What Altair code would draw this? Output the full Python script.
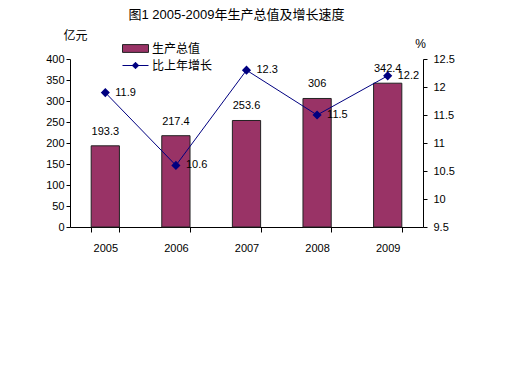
import altair as alt
import pandas as pd

years = ["2005", "2006", "2007", "2008", "2009"]
output = [193.3, 217.4, 253.6, 306, 342.4]
growth = [11.9, 10.6, 12.3, 11.5, 12.2]
output_labels = ["193.3", "217.4", "253.6", "306", "342.4"]
growth_labels = ["11.9", "10.6", "12.3", "11.5", "12.2"]

df = pd.DataFrame({
    "year": years, "output": output, "growth": growth,
    "olab": output_labels, "glab": growth_labels,
    "s1": ["生产总值"] * 5, "s2": ["比上年增长"] * 5,
})

FONT = "Liberation Sans, Noto Sans CJK SC"
BAR = "#993366"
LINE = "#000080"

x = alt.X("year:N", title=None,
          scale=alt.Scale(paddingInner=0.6, paddingOuter=0.3),
          axis=alt.Axis(labelAngle=0, labelPadding=10, ticks=True, tickBand="extent",
                        tickSize=5, tickWidth=1, tickOpacity=1, domainColor="black",
                        tickColor="black",
                        labelFontSize=11, labelColor="black", labelFont=FONT))

yl = alt.Y("output:Q", title="亿元",
           scale=alt.Scale(domain=[0, 400], nice=False),
           axis=alt.Axis(values=[0, 50, 100, 150, 200, 250, 300, 350, 400],
                         grid=False, tickSize=4, domainColor="black", tickColor="black",
                         labelFontSize=11, labelColor="black", labelFont=FONT,
                         titleAngle=0, titleX=5, titleY=-24, titleAlign="center",
                         titleBaseline="middle",
                         titleFontSize=12, titleFontWeight="normal", titleFont=FONT,
                         titleColor="black"))

yr = alt.Y("growth:Q", title="%", scale=alt.Scale(domain=[9.5, 12.5], nice=False, zero=False),
           axis=alt.Axis(orient="right", values=[9.5, 10, 10.5, 11, 11.5, 12, 12.5],
                         format=".1~f", labelPadding=6,
                         grid=False, tickSize=4, domainColor="black", tickColor="black",
                         labelFontSize=11, labelColor="black", labelFont=FONT,
                         titleAngle=0, titleX=-3, titleY=-16, titleAlign="center",
                         titleBaseline="middle",
                         titleFontSize=12, titleFontWeight="normal", titleFont=FONT,
                         titleColor="black"))

base = alt.Chart(df)

bars = base.mark_bar(stroke="#222222", strokeWidth=1).encode(
    x=x, y=yl,
    fill=alt.Fill("s1:N", scale=alt.Scale(domain=["生产总值"], range=[BAR]),
                  legend=alt.Legend(title=None, orient="none", legendX=52, legendY=-24,
                                    symbolType="M-1,-0.3H1V0.3H-1Z", symbolSize=676,
                                    symbolStrokeColor="#222222", symbolStrokeWidth=1,
                                    labelFontSize=12, labelFont=FONT, labelColor="black",
                                    labelOffset=3)),
)
bar_text = base.mark_text(dy=-14, fontSize=11, font=FONT, color="black").encode(
    x=x, y=yl, text="olab:N")

line = base.mark_line(strokeWidth=1, point=alt.OverlayMarkDef(shape="diamond", size=40, filled=True, color=LINE)).encode(
    x=x, y=yr,
    stroke=alt.Stroke("s2:N", scale=alt.Scale(domain=["比上年增长"], range=[LINE]),
                      legend=alt.Legend(title=None, orient="none", legendX=52, legendY=-7,
                                        symbolType="M-1,0H1M0,-0.25L0.25,0L0,0.25L-0.25,0Z",
                                        symbolSize=676, symbolStrokeWidth=1,
                                        symbolFillColor=LINE,
                                        labelFontSize=12, labelFont=FONT, labelColor="black",
                                        labelOffset=3)),
)
line_text = base.mark_text(dx=10, align="left", baseline="middle", fontSize=11,
                           font=FONT, color="black").encode(
    x=x, y=yr, text="glab:N")

left = alt.layer(bars, bar_text)
right = alt.layer(line, line_text)

chart = alt.layer(left, right).resolve_scale(y="independent", fill="independent", stroke="independent").properties(
    width=353, height=168,
    title=alt.TitleParams("图1 2005-2009年生产总值及增长速度", fontSize=13, fontWeight="normal",
                          font=FONT, color="black", dx=-10, offset=7),
    padding={"left": 62, "top": 51, "right": 80, "bottom": 150},
    autosize=alt.AutoSizeParams(type="none"),
).configure_view(stroke=None).configure_axisX(
    ticks=True, tickBand="extent", tickColor="black", tickSize=5
).configure_axisBand(ticks=True, tickBand="extent", tickColor="black", tickSize=5)

chart.save("out.html", embed_options={"renderer": "svg", "actions": False})
